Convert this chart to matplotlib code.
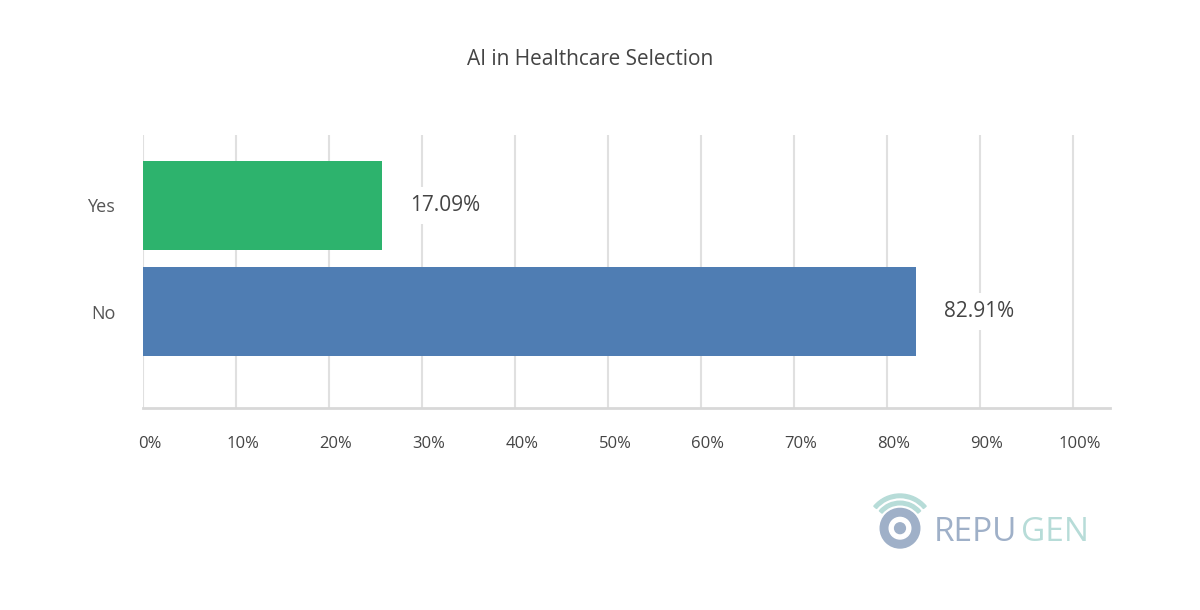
import matplotlib
matplotlib.use("Agg")
import matplotlib.pyplot as plt
from matplotlib.patches import Circle, Wedge

categories = ["No", "Yes"]
bar_values = [83.1, 25.7]
bar_labels = ["82.91%", "17.09%"]
colors = ["#4f7db3", "#2db36d"]
ticks = [0, 10, 20, 30, 40, 50, 60, 70, 80, 90, 100]

plt.rcParams["font.family"] = "Open Sans"

fig = plt.figure(figsize=(12, 6.1), dpi=100)
ax = fig.add_axes([0.1192, 0.331, 0.8058, 0.448])
ax.set_xlim(0, 104)
ax.set_ylim(-0.91, 1.665)
for t in ticks:
    ax.axvline(t, color="#e0e0e0", lw=1.5, zorder=0)
ax.barh(range(len(categories)), bar_values, height=0.84, color=colors, zorder=2)
for i, (v, lab) in enumerate(zip(bar_values, bar_labels)):
    ax.text(v + 3, i, lab, va="center", ha="left", fontsize=15, color="#444444",
            bbox=dict(facecolor="white", edgecolor="none", pad=6), zorder=3)
ax.set_yticks(range(len(categories)))
ax.set_yticklabels(categories, fontsize=13, color="#555555")
ax.set_xticks(ticks)
ax.set_xticklabels([f"{t}%" for t in ticks], fontsize=12, color="#444444")
for lbl in ax.get_xticklabels():
    lbl.set_x(lbl.get_position()[0])
ax.tick_params(length=0)
ax.tick_params(axis="x", pad=20)
ax.tick_params(axis="y", pad=20)
# nudge x tick labels right a bit
import matplotlib.transforms as mtrans
off = mtrans.ScaledTranslation(7 / 100, 0, fig.dpi_scale_trans)
for lbl in ax.get_xticklabels():
    lbl.set_transform(lbl.get_transform() + off)
for s in ["top", "right", "left"]:
    ax.spines[s].set_visible(False)
ax.spines["bottom"].set_color("#d8d8d8")
ax.spines["bottom"].set_linewidth(2)

fig.text(0.492, 0.902, "AI in Healthcare Selection", ha="center", va="center",
         fontsize=15, color="#444444")

# logo
lax = fig.add_axes([0.72, 0.08, 0.06, 0.12])
lax.set_xlim(-1, 1); lax.set_ylim(-1, 1); lax.set_aspect("equal"); lax.axis("off")
lax.add_patch(Circle((0, -0.1), 0.55, color="#9fb0c8"))
lax.add_patch(Circle((0, -0.1), 0.3, color="white"))
lax.add_patch(Circle((0, -0.1), 0.15, color="#9fb0c8"))
for r in [0.75, 0.95]:
    lax.add_patch(Wedge((0, -0.1), r, 40, 140, width=0.1, color="#b7dcd8"))
fig.text(0.778, 0.127, "REPU", fontsize=24, color="#9fb0c8", va="center")
fig.text(0.851, 0.127, "GEN", fontsize=24, color="#b7dcd8", va="center")

fig.savefig("out.png", dpi=100)
